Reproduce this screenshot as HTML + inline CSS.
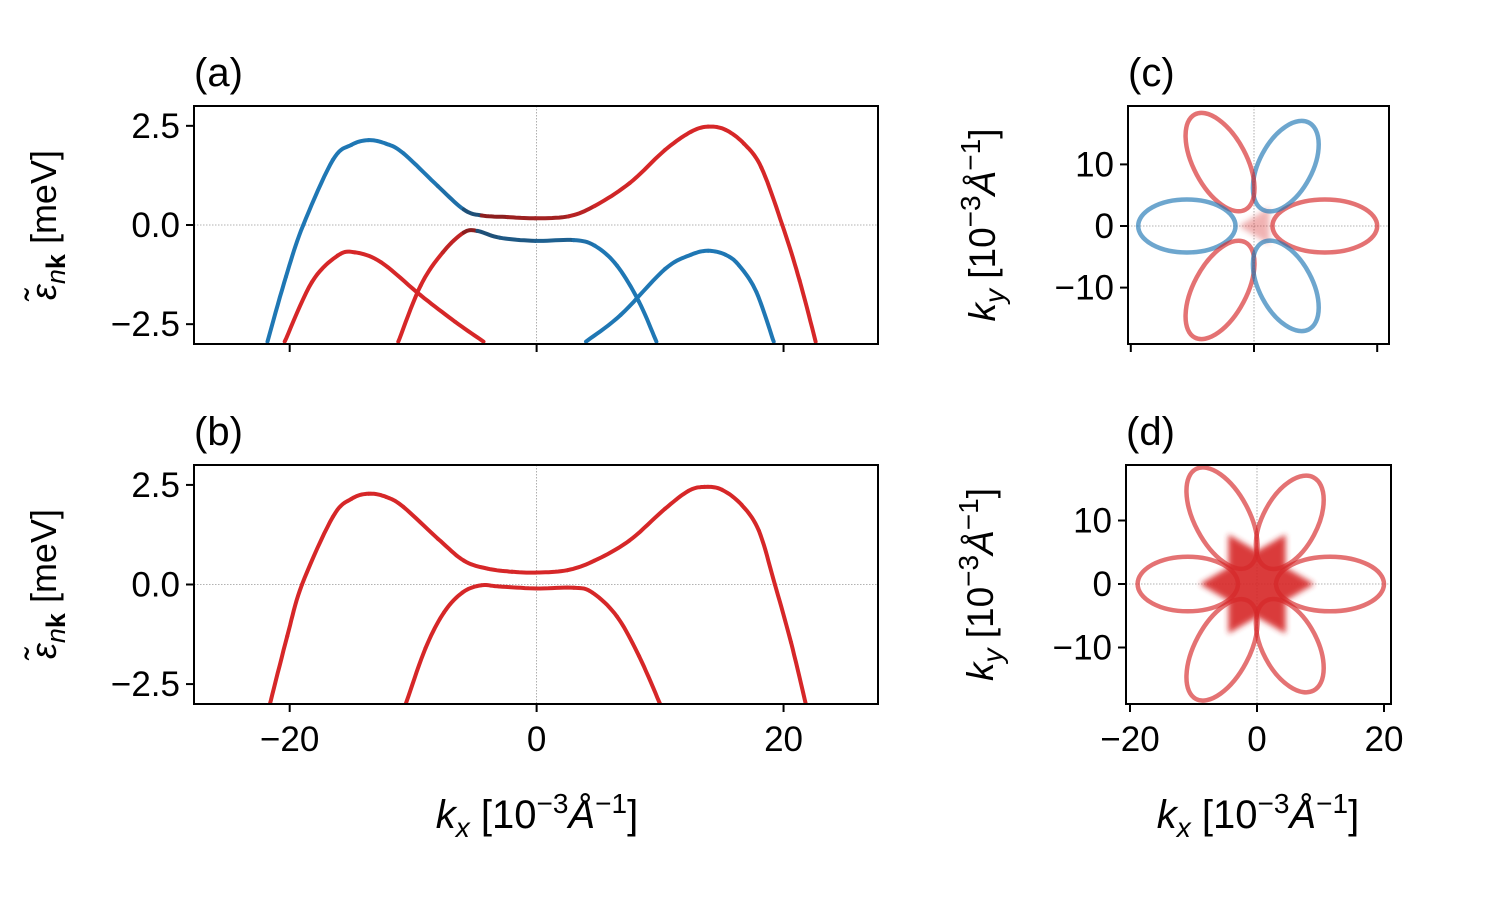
<!DOCTYPE html>
<html><head><meta charset="utf-8"><style>
body{margin:0;background:#fff}
svg text{font-family:"Liberation Sans","DejaVu Sans",sans-serif;fill:#000}
</style></head><body>
<svg id="fig" width="1500" height="900" viewBox="0 0 1500 900" xmlns="http://www.w3.org/2000/svg"></svg>
<script>
// ---- data ----
const aUpperK=[-21.8,-20.3,-18.9,-16.5,-15.0,-13.6,-12.2,-10.8,-8.0,-5.9,-4.45,-2.34,-0.1,2.6,4.7,7.55,10.4,12.5,13.9,15.3,16.8,18.2,19.9,21.3,22.6];
const aUpperE=[-2.94,-1.3,0.0,1.64,2.02,2.14,2.05,1.81,0.98,0.39,0.24,0.2,0.17,0.22,0.48,1.06,1.89,2.35,2.48,2.4,2.05,1.45,0.0,-1.4,-2.94];
const aUpperS=[-1,-1,-1,-1,-1,-1,-1,-1,-1,-0.8,0,0.6,0.6,0.7,0.9,1,1,1,1,1,1,1,1,1,1];
const aLowerK=[-11.2,-9.4,-7.6,-5.9,-4.8,-3.0,-0.1,3.0,4.7,6.5,8.3,9.7];
const aLowerE=[-2.94,-1.53,-0.69,-0.19,-0.15,-0.32,-0.40,-0.38,-0.52,-1.02,-1.94,-2.94];
const aLowerS=[1,1,1,0.7,0,-0.6,-0.6,-0.8,-1,-1,-1,-1];
const aHumpRK=[-20.4,-18.2,-16.1,-14.7,-12.6,-9.4,-6.6,-4.3];
const aHumpRE=[-2.94,-1.44,-0.77,-0.69,-0.94,-1.77,-2.44,-2.94];
const aHumpBK=[4.0,6.8,10.4,12.5,13.9,15.3,16.4,17.8,19.2];
const aHumpBE=[-2.94,-2.27,-1.11,-0.75,-0.65,-0.75,-1.02,-1.69,-2.94];
const bUpperK=[-21.6,-20.2,-19.0,-16.5,-15.0,-13.6,-12.2,-10.8,-8.0,-5.9,-4.0,-2.0,0,2.5,4.7,7.5,10.4,12.3,13.6,15.0,16.6,18.0,19.3,20.6,21.8];
const bUpperE=[-3,-1.3,0,1.7,2.15,2.28,2.2,1.95,1.15,0.6,0.4,0.32,0.3,0.36,0.6,1.1,1.9,2.35,2.45,2.38,2.0,1.35,0,-1.45,-3];
const bLowerK=[-10.6,-9,-7.5,-6,-4.5,-3,0,3,4.5,6.5,8.3,10];
const bLowerE=[-3,-1.6,-0.7,-0.2,-0.02,-0.05,-0.1,-0.08,-0.2,-0.8,-1.8,-3];
const bandTicksY=[-2.5,0,2.5];
const bandTickLabelsY=["\u22122.5","0.0","2.5"];
const kTicks=[-20,0,20];
const kTickLabels=["\u221220","0","20"];
const fsTicks=[-10,0,10];
const fsTickLabels=["\u221210","0","10"];
const petalAngles=[0,62,118,180,242,298];
const petalTips=[20,19,20.5,18.8,20.5,19];
const petalColorsC=["r","b","r","b","r","b"];
const petalColorsD=["r","r","r","r","r","r"];
const petalInner=3.0, petalHalfWidth=4.3;

const NS="http://www.w3.org/2000/svg";
const svg=document.getElementById('fig');
function el(tag,attrs,parent){const e=document.createElementNS(NS,tag);for(const k in attrs)e.setAttribute(k,attrs[k]);(parent||svg).appendChild(e);return e;}
function lin(d0,d1,p0,p1){return v=>p0+(v-d0)/(d1-d0)*(p1-p0);}
const RED=[214,39,40],BLUE=[31,119,180],DR=[140,30,30],DB=[30,80,120];
function mix(a,b,t){return a.map((v,i)=>Math.round(v+(b[i]-v)*t));}
function spinColor(s){if(Math.abs(s)<0.05)return 'rgb(235,235,235)';const c=s>0?mix(DR,RED,Math.max(0,(s-0.5)/0.5)):mix(DB,BLUE,Math.max(0,(-s-0.5)/0.5));return 'rgb('+c.join(',')+')';}

const defs=el('defs',{});
const blur=el('filter',{id:'blur',x:'-50%',y:'-50%',width:'200%',height:'200%'},defs);
el('feGaussianBlur',{stdDeviation:'3'},blur);

function bandPanel(name,x0,y0,x1,y1){
  const g=el('g',{});
  
  
  const sx=lin(-27.75,27.65,x0,x1), sy=lin(-3,3,y1,y0);
  const cid='clip-'+name;
  const cp=el('clipPath',{id:cid},defs);el('rect',{x:x0,y:y0,width:x1-x0,height:y1-y0},cp);
  const grid=el('g',{'clip-path':'url(#'+cid+')'},g);
  el('line',{x1:sx(0),x2:sx(0),y1:y0,y2:y1,stroke:'#999','stroke-width':0.8,'stroke-dasharray':'1.5,1.5'},grid);
  el('line',{x1:x0,x2:x1,y1:sy(0),y2:sy(0),stroke:'#999','stroke-width':0.8,'stroke-dasharray':'1.5,1.5'},grid);
  return {g,sx,sy,grid};
}
function drawCurve(P,ks,es,ss,color,name){
  const grp=el('g',{},P.grid);
  
  
  const pts=ks.map((k,i)=>[P.sx(k),P.sy(es[i]),ss?ss[i]:0]);
  const N=10;
  for(let i=0;i<pts.length-1;i++){
    const p0=pts[Math.max(0,i-1)],p1=pts[i],p2=pts[i+1],p3=pts[Math.min(pts.length-1,i+2)];
    let d='';
    for(let j=0;j<=N;j++){const t=j/N,t2=t*t,t3=t2*t;
      const x=0.5*((2*p1[0])+(-p0[0]+p2[0])*t+(2*p0[0]-5*p1[0]+4*p2[0]-p3[0])*t2+(-p0[0]+3*p1[0]-3*p2[0]+p3[0])*t3);
      const y=0.5*((2*p1[1])+(-p0[1]+p2[1])*t+(2*p0[1]-5*p1[1]+4*p2[1]-p3[1])*t2+(-p0[1]+3*p1[1]-3*p2[1]+p3[1])*t3);
      d+=(j?'L':'M')+x.toFixed(1)+','+y.toFixed(1);}
    const c=ss?spinColor((p1[2]+p2[2])/2):color;
    el('path',{d:d,fill:'none',stroke:c,'stroke-width':4,'stroke-linecap':'round'},grp);
  }
}
function frameAndTicks(P,x0,y0,x1,y1,title,showX,yTicks,yLabels,xTicks,xLabels,sx,sy){
  el('rect',{x:x0,y:y0,width:x1-x0,height:y1-y0,fill:'none',stroke:'#000','stroke-width':2},P.g);
  yTicks.forEach((v,i)=>{const y=sy(v);
    el('line',{x1:x0-8,x2:x0,y1:y,y2:y,stroke:'#000','stroke-width':2},P.g);
    const t=el('text',{x:x0-14,y:y+12,'text-anchor':'end','font-size':35},P.g);t.textContent=yLabels[i];
    });
  xTicks.forEach((v,i)=>{const x=sx(v);
    el('line',{x1:x,x2:x,y1:y1,y2:y1+8,stroke:'#000','stroke-width':2},P.g);
    if(showX){const t=el('text',{x:x,y:y1+47,'text-anchor':'middle','font-size':35},P.g);t.textContent=xLabels[i];
      }});
  const tt=el('text',{x:x0,y:y0-20,'font-size':40},P.g);tt.textContent=title;
  
}
const KLABEL='<tspan font-style="italic">k</tspan><tspan font-size="28" dy="9" font-style="italic">SUB</tspan><tspan dy="-9"> [10</tspan><tspan font-size="28" dy="-15">\u22123</tspan><tspan font-style="italic" dy="15">\u00C5</tspan><tspan font-size="28" dy="-15">\u22121</tspan><tspan dy="15">]</tspan>';

const A=bandPanel('panel-a',194,106,878,344);
drawCurve(A,aHumpRK,aHumpRE,null,'rgb(214,39,40)','band-red-hump');
drawCurve(A,aHumpBK,aHumpBE,null,'rgb(31,119,180)','band-blue-hump');
drawCurve(A,aLowerK,aLowerE,aLowerS,null,'band-lower');
drawCurve(A,aUpperK,aUpperE,aUpperS,null,'band-upper');
frameAndTicks(A,194,106,878,344,'(a)',false,bandTicksY,bandTickLabelsY,kTicks,kTickLabels,A.sx,A.sy);
const B=bandPanel('panel-b',194,465,878,704);
drawCurve(B,bLowerK,bLowerE,null,'rgb(214,39,40)','band-lower');
drawCurve(B,bUpperK,bUpperE,null,'rgb(214,39,40)','band-upper');
frameAndTicks(B,194,465,878,704,'(b)',true,bandTicksY,bandTickLabelsY,kTicks,kTickLabels,B.sx,B.sy);

function ylabelBand(cy,name){const t=el('text',{transform:'translate(56,'+cy+') rotate(-90)','text-anchor':'middle','font-size':36});
  
  t.innerHTML='<tspan font-style="italic">\u03B5\u0303</tspan><tspan font-size="27" dy="9" font-style="italic">n</tspan><tspan font-size="27" font-weight="bold">k</tspan><tspan dy="-9"> [meV]</tspan>';}
ylabelBand(225,'y-axis-title-a');ylabelBand(584,'y-axis-title-b');
const xl=el('text',{x:537,y:828,'text-anchor':'middle','font-size':40});

xl.innerHTML=KLABEL.replace('SUB','x');

function fsPanel(name,x0,y0,x1,y1,cx,cy,scale,colors,title,showX,star){
  const g=el('g',{});
  const sx=v=>cx+v*scale, sy=v=>cy-v*scale;
  const cid='clip-'+name;const cp=el('clipPath',{id:cid},defs);el('rect',{x:x0,y:y0,width:x1-x0,height:y1-y0},cp);
  const inner=el('g',{'clip-path':'url(#'+cid+')'},g);
  el('line',{x1:sx(0),x2:sx(0),y1:y0,y2:y1,stroke:'#999','stroke-width':0.8,'stroke-dasharray':'1.5,1.5'},inner);
  el('line',{x1:x0,x2:x1,y1:sy(0),y2:sy(0),stroke:'#999','stroke-width':0.8,'stroke-dasharray':'1.5,1.5'},inner);
  if(star){let d='';for(let i=0;i<12;i++){const a=i*Math.PI/6,r=(i%2?5.2:9);d+=(i?'L':'M')+sx(r*Math.cos(a)).toFixed(1)+','+sy(r*Math.sin(a)).toFixed(1);}
    const s=el('path',{d:d+'Z',fill:'rgb(214,39,40)',opacity:0.9,filter:'url(#blur)'},inner);}
  else{const s=el('path',{d:'M'+sx(-2.5)+','+sy(0)+'L'+sx(2.5)+','+sy(3)+'L'+sx(2.5)+','+sy(-3)+'Z',fill:'rgb(214,39,40)',opacity:0.35,filter:'url(#blur)'},inner);}
  petalAngles.forEach((ang,i)=>{
    const rc=(petalTips[i]+petalInner)/2, a=(petalTips[i]-petalInner)/2, th=ang*Math.PI/180;
    const c=colors[i]==='r'?'rgb(214,39,40)':'rgb(31,119,180)';
    const ex=sx(rc*Math.cos(th)), ey=sy(rc*Math.sin(th));
    const e=el('ellipse',{cx:ex,cy:ey,rx:a*scale,ry:petalHalfWidth*scale,
      transform:'rotate('+(-ang)+' '+ex+' '+ey+')',fill:'none',stroke:c,'stroke-width':4.5,opacity:0.65},inner);
    
  });
  frameAndTicks({g},x0,y0,x1,y1,title,showX,fsTicks,fsTickLabels,kTicks,kTickLabels,sx,sy);
  const t=el('text',{transform:'translate('+(x0-133)+','+(y0+y1)/2+') rotate(-90)','text-anchor':'middle','font-size':37},g);
  
  t.innerHTML=KLABEL.replace('SUB','y');
}
fsPanel('panel-c',1128,106,1389,344,1254,226,6.16,petalColorsC,'(c)',false,false);
fsPanel('panel-d',1126,465,1391,704,1257,584,6.35,petalColorsD,'(d)',true,true);
const xl2=el('text',{x:1258,y:828,'text-anchor':'middle','font-size':40});

xl2.innerHTML=KLABEL.replace('SUB','x');
</script>
</body></html>
